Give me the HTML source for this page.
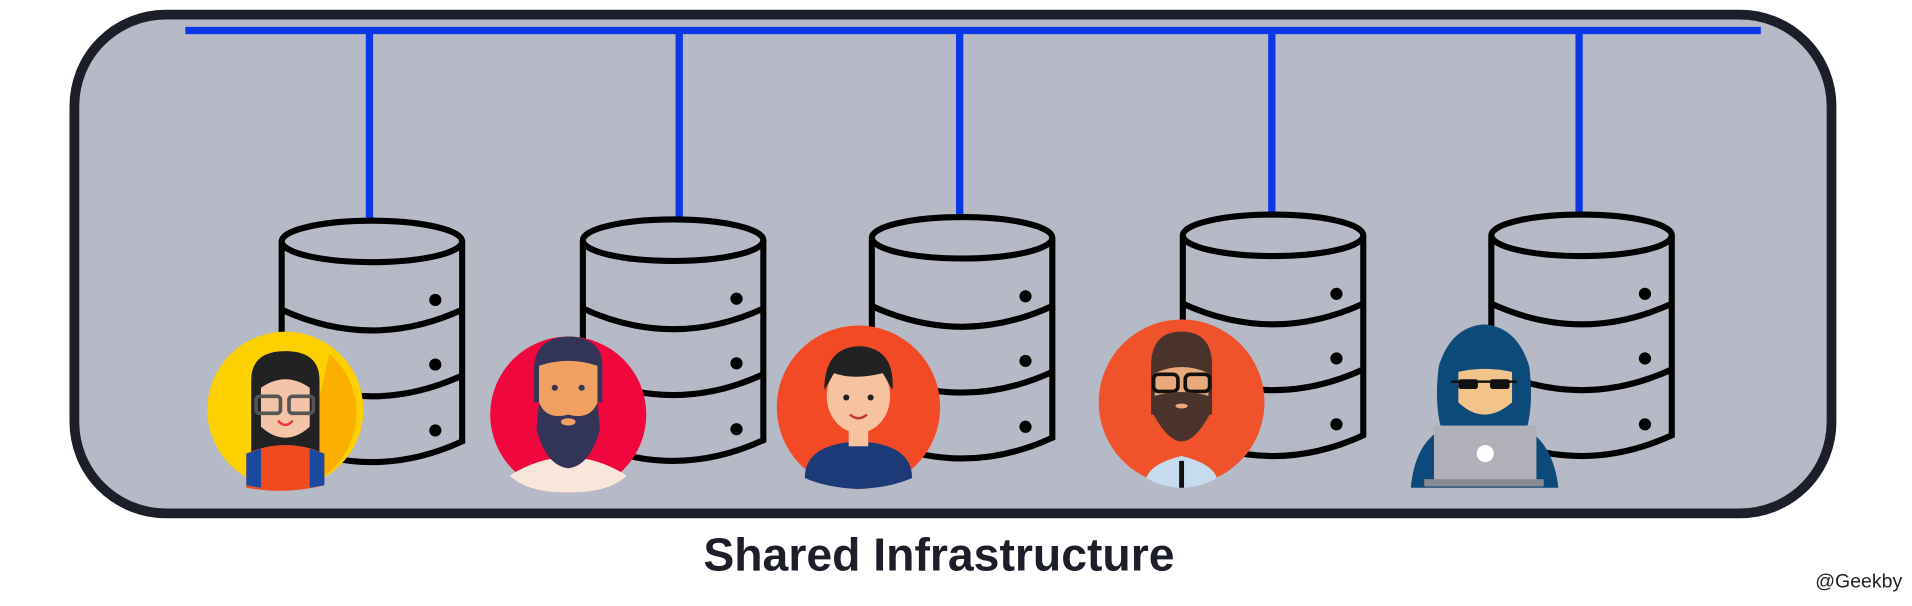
<!DOCTYPE html>
<html><head><meta charset="utf-8"><style>
html,body{margin:0;padding:0;background:#fff;width:1912px;height:606px;overflow:hidden}
svg{display:block}
</style></head><body>
<svg width="1912" height="606" viewBox="0 0 1568 497" preserveAspectRatio="none" xmlns="http://www.w3.org/2000/svg">
<defs>
<g id="db" fill="none" stroke="#000" stroke-width="5">
<path d="M-74,0 L-74,164 Q0,198 74,164 L74,0" fill="#b6b9c6"/>
<ellipse cx="0" cy="0" rx="74" ry="17"/>
<path d="M-74,56 Q0,90 74,56"/>
<path d="M-74,110 Q0,144 74,110"/>
<circle cx="52" cy="48" r="5" fill="#000" stroke="none"/>
<circle cx="52" cy="101" r="5" fill="#000" stroke="none"/>
<circle cx="52" cy="155" r="5" fill="#000" stroke="none"/>
</g>
</defs>
<rect x="61" y="12" width="1441" height="409" rx="75" fill="#b6b9c6" stroke="#1c1f2a" stroke-width="8"/>
<g stroke="#0a38e6" stroke-width="6">
<line x1="152" y1="25" x2="1444" y2="25"/>
<line x1="303" y1="25" x2="303" y2="180"/>
<line x1="557" y1="25" x2="557" y2="179"/>
<line x1="787" y1="25" x2="787" y2="177"/>
<line x1="1043" y1="25" x2="1043" y2="175"/>
<line x1="1295" y1="25" x2="1295" y2="175"/>
</g>
<use href="#db" x="305" y="198"/>
<use href="#db" x="552" y="197"/>
<use href="#db" x="789" y="195"/>
<use href="#db" x="1044" y="193"/>
<use href="#db" x="1297" y="193"/>

<circle cx="234" cy="336" r="64" fill="#fdd000"/>
<path d="M270,290 A64,64 0 0 1 262,393 L250,380Z" fill="#fbb000"/>
<path d="M206,312 Q206,288 234,288 Q262,288 262,312 L262,372 L206,372Z" fill="#222"/>
<path d="M214,318 Q234,304 254,318 L254,350 Q234,368 214,350Z" fill="#f4c4a8"/>
<rect x="210" y="325" width="20" height="14" rx="3" fill="none" stroke="#555" stroke-width="3"/>
<rect x="237" y="325" width="20" height="14" rx="3" fill="none" stroke="#555" stroke-width="3"/>
<path d="M228,345 Q234,352 240,345" fill="none" stroke="#e33" stroke-width="2"/>
<path d="M202,400 L202,372 Q234,358 266,372 L266,398 Q234,406 202,400Z" fill="#f04a20"/>
<path d="M202,372 L214,368 L214,400 L202,398Z M254,368 L266,372 L266,398 L254,400Z" fill="#1a4aa0"/>

<circle cx="466" cy="340" r="64" fill="#f0073e"/>
<path d="M418,390 Q466,360 514,390 Q500,404 466,404 Q432,404 418,390Z" fill="#f8e6da"/>
<path d="M438,300 Q440,276 468,276 Q494,278 494,300 L494,330 L438,330Z" fill="#323458"/>
<path d="M442,300 Q466,292 490,300 L490,335 Q466,360 442,335Z" fill="#f0a060"/>
<path d="M442,330 Q448,345 466,340 Q484,345 490,330 L492,352 Q484,382 466,384 Q448,382 440,352Z" fill="#323458"/>
<circle cx="455" cy="318" r="2.5" fill="#323458"/><circle cx="477" cy="318" r="2.5" fill="#323458"/>
<ellipse cx="466" cy="346" rx="6" ry="3" fill="#f0a060"/>

<circle cx="704" cy="334" r="67" fill="#f24a25"/>
<path d="M660,392 Q660,364 704,362 Q748,364 748,392 Q730,400 704,401 Q678,400 660,392Z" fill="#1d3a78"/>
<rect x="696" y="350" width="16" height="16" fill="#f7c2a0"/>
<ellipse cx="704" cy="325" rx="26" ry="30" fill="#f7c2a0"/>
<path d="M676,320 Q676,284 706,284 Q734,286 732,320 L724,306 Q700,312 684,306Z" fill="#222"/>
<circle cx="694" cy="326" r="2.5" fill="#222"/><circle cx="714" cy="326" r="2.5" fill="#222"/>
<path d="M697,340 Q704,346 711,340" fill="none" stroke="#c33" stroke-width="2"/>

<circle cx="969" cy="330" r="68" fill="#f0532c"/>
<path d="M940,392 Q944,380 969,374 Q994,380 998,392 Q984,400 969,400 Q954,400 940,392Z" fill="#c6dcee"/>
<rect x="967" y="378" width="4" height="22" fill="#111"/>
<path d="M944,300 Q944,272 969,272 Q994,272 994,300 L994,340 L944,340Z" fill="#4a332b"/>
<path d="M947,306 Q969,296 991,306 L991,338 L947,338Z" fill="#e9a97c"/>
<rect x="946" y="307" width="20" height="14" rx="4" fill="none" stroke="#111" stroke-width="3"/>
<rect x="972" y="307" width="20" height="14" rx="4" fill="none" stroke="#111" stroke-width="3"/>
<path d="M946,325 Q969,318 992,325 L992,340 Q980,362 969,362 Q958,362 946,340Z" fill="#4a332b"/>
<ellipse cx="969" cy="333" rx="5" ry="2" fill="#e9a97c"/>

<path d="M1157,400 Q1160,365 1182,352 Q1176,330 1180,300 Q1190,268 1217,266 Q1244,268 1254,300 Q1258,330 1252,352 Q1274,365 1278,400Z" fill="#0d4a7a"/>
<path d="M1196,305 Q1217,300 1240,305 L1240,330 Q1217,350 1196,330Z" fill="#f3c48a"/>
<rect x="1196" y="311" width="16" height="8" rx="2" fill="#111"/>
<rect x="1222" y="311" width="16" height="8" rx="2" fill="#111"/>
<rect x="1190" y="312" width="54" height="2" fill="#111"/>
<rect x="1176" y="349" width="84" height="46" fill="#b0b0b8"/>
<circle cx="1218" cy="372" r="7" fill="#fff"/>
<rect x="1168" y="393" width="98" height="6" fill="#8a8a92"/>

<text x="770" y="468" text-anchor="middle" font-family="Liberation Sans, sans-serif" font-weight="bold" font-size="38" fill="#1c1f2a">Shared Infrastructure</text>
<text x="1560" y="482" text-anchor="end" font-family="Liberation Sans, sans-serif" font-size="16" fill="#222">@Geekby</text>
</svg>
</body></html>
